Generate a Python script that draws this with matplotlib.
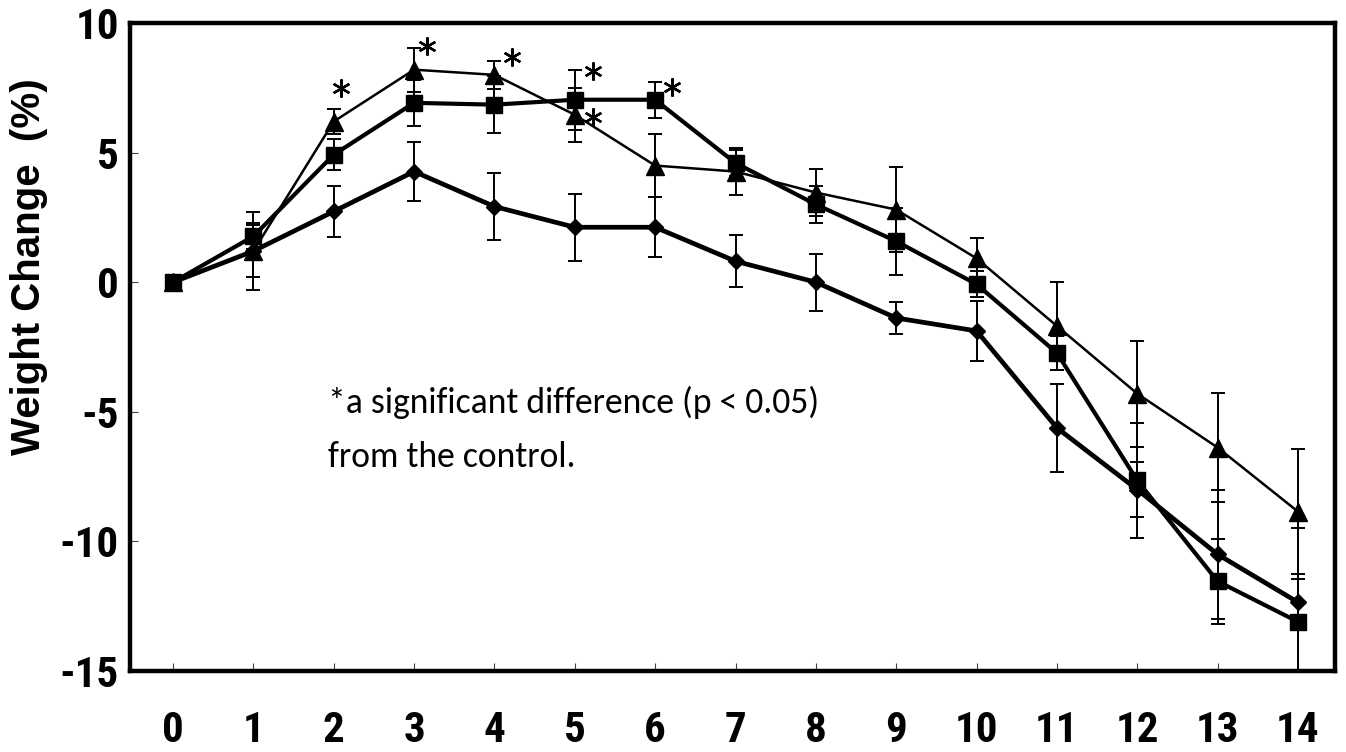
import numpy as np
import matplotlib
matplotlib.use("Agg")
import matplotlib.pyplot as plt
from matplotlib.transforms import ScaledTranslation

# days after start
days = np.arange(0, 15)

# control (diamond)
control = [0, 1.2, 2.73, 4.27, 2.92, 2.12, 2.12, 0.81, 0.0, -1.38, -1.88, -5.62, -8.0, -10.5, -12.35]
control_err = [0, 1.0, 1.0, 1.15, 1.3, 1.3, 1.15, 1.0, 1.1, 0.6, 1.15, 1.7, 1.05, 2.5, 0.9]

# square group
group_sq = [0, 1.77, 4.92, 6.92, 6.85, 7.04, 7.04, 4.6, 3.0, 1.58, -0.08, -2.73, -7.65, -11.54, -13.1]
group_sq_err = [0, 0.5, 0.6, 0.9, 1.1, 1.15, 0.7, 0.5, 0.7, 1.3, 0.5, 0.65, 2.2, 1.65, 3.6]

# triangle group
group_tri = [0, 1.2, 6.2, 8.2, 8.0, 6.46, 4.5, 4.27, 3.46, 2.8, 0.92, -1.69, -4.3, -6.38, -8.85]
group_tri_err = [0, 1.5, 0.5, 0.85, 0.55, 1.05, 1.2, 0.9, 0.9, 1.65, 0.8, 1.7, 2.05, 2.1, 2.4]

# significance marks: (series, day) and offset from the point in points
stars = [('tri', 2), ('tri', 3), ('tri', 4), ('sq', 5), ('tri', 5), ('sq', 6)]
star_offsets = [(5, 24), (9.5, 17), (13, 13), (13, 21), (13, -1.5), (12, 9)]

note = "*a significant difference (p < 0.05)\nfrom the control."

tick_font = ['Roboto Condensed', 'Open Sans Condensed', 'DejaVu Sans']

fig = plt.figure(figsize=(13.46, 7.52), dpi=100)
fig.patch.set_facecolor('white')
ax = fig.add_axes([0.0966, 0.1077, 0.8952, 0.8617])

err_kw = dict(ecolor='black', elinewidth=1.4, capsize=5, capthick=1.4)

ax.errorbar(days, group_tri, yerr=group_tri_err, color='black', lw=1.8,
            marker='^', ms=13, mfc='black', mec='black', zorder=3, **err_kw)
ax.errorbar(days, group_sq, yerr=group_sq_err, color='black', lw=3.0,
            marker='s', ms=11, mfc='black', mec='black', zorder=4, **err_kw)
ax.errorbar(days, control, yerr=control_err, color='black', lw=3.4,
            marker='D', ms=8, mfc='black', mec='black', zorder=5, **err_kw)

series = {'tri': group_tri, 'sq': group_sq}
for (name, d), (dx, dy) in zip(stars, star_offsets):
    shift = ScaledTranslation(dx / 72, dy / 72, fig.dpi_scale_trans)
    ax.plot([d], [series[name][d]], marker=(6, 2, 0), ms=13, mew=1.7, color='black',
            ls='none', transform=ax.transData + shift, zorder=6)

ax.text(0.164, 0.315, note, transform=ax.transAxes, ha='left', va='baseline',
        fontsize=25.7, family=['Carlito', 'Lato', 'DejaVu Sans'], linespacing=1.85)

ax.set_xlim(-0.535, 14.46)
ax.set_ylim(-15, 10)
ax.set_xticks(days)
ax.set_yticks([-15, -10, -5, 0, 5, 10])
ax.set_yticklabels(['-15', '-10', '-5', '0', '5', '10'])

for sp in ax.spines.values():
    sp.set_linewidth(3.2)
    sp.set_color('black')

ax.tick_params(axis='x', direction='in', length=6, width=0.8, color='#444444', pad=28)
ax.tick_params(axis='y', direction='in', length=6, width=0.8, color='#444444', pad=8)
for lab in ax.get_xticklabels() + ax.get_yticklabels():
    lab.set_fontfamily(tick_font)
    lab.set_fontweight('bold')
    lab.set_fontsize(31)

fig.text(0.0215, 1 - 267 / 752, 'Weight Change  (%)', rotation=90, ha='center', va='center',
         fontsize=29, fontweight='bold', family=['Liberation Sans', 'DejaVu Sans'])

plt.savefig('out.png', dpi=100)
